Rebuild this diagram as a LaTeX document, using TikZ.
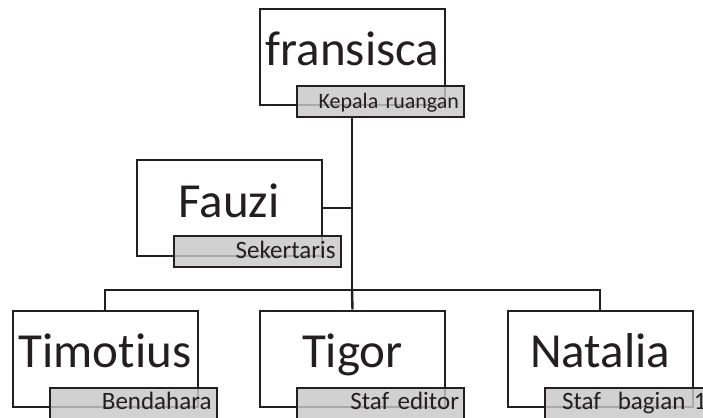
\documentclass[tikz,border=0pt]{standalone}
\usepackage{fontspec}
\setmainfont{Carlito}[Ligatures=NoCommon]
\definecolor{ink}{RGB}{35,31,32}
\definecolor{tagfill}{RGB}{200,200,200}
\tikzset{
  namebox/.style={draw=ink, line width=2pt, fill=white, rectangle,
    minimum width=185pt, minimum height=96pt, inner sep=0pt,
    font=\fontsize{49}{50}\selectfont, text=ink,
    text height=32pt, text depth=14pt},
  tagbox/.style={draw=ink, line width=2pt, fill=tagfill, fill opacity=0.82, text opacity=1,
    rectangle, minimum height=31pt, text width=157pt, align=right,
    inner xsep=5pt, inner ysep=0pt, anchor=north west,
    font=\fontsize{25}{26}\selectfont, text=ink,
    text height=15pt, text depth=2pt},
  wire/.style={draw=ink, line width=2.4pt}
}
\begin{document}
\begin{tikzpicture}[x=1pt,y=-1pt]
\useasboundingbox (0,0) rectangle (703,417);
% main boxes
\node[namebox] (fr) at (352.5,57) {fransisca};
\node[namebox] (fa) at (229,208) {Fauzi};
\node[namebox] (ti) at (105,358.5) {Timotius};
\node[namebox] (tg) at (352.5,358.5) {Tigor};
\node[namebox] (na) at (600,358.5) {Natalia};
% tags
\node[tagbox, font=\fontsize{22}{24}\selectfont] (frt) at ([xshift=37pt,yshift=21pt]fr.south west) {Kepala ruangan};
\node[tagbox] (fat) at ([xshift=37pt,yshift=22pt]fa.south west) {Sekertaris};
\node[tagbox] (tit) at ([xshift=37pt,yshift=21pt]ti.south west) {Bendahara};
\node[tagbox] (tgt) at ([xshift=37pt,yshift=21pt]tg.south west) {Staf editor};
\node[tagbox] (nat) at ([xshift=37pt,yshift=21pt]na.south west) {Staf\ \ bagian 1};
% connectors
\coordinate (bus) at (352,290);
\coordinate (fj) at (352,208);
\path[wire] (frt.south -| bus) -- (bus);
\path[wire] (fa.east) -- (fj);
\path[wire] (ti.north) |- (bus);
\path[wire] (na.north) |- (bus);
\path[wire] (tg.north) -- (bus);
\end{tikzpicture}
\end{document}
